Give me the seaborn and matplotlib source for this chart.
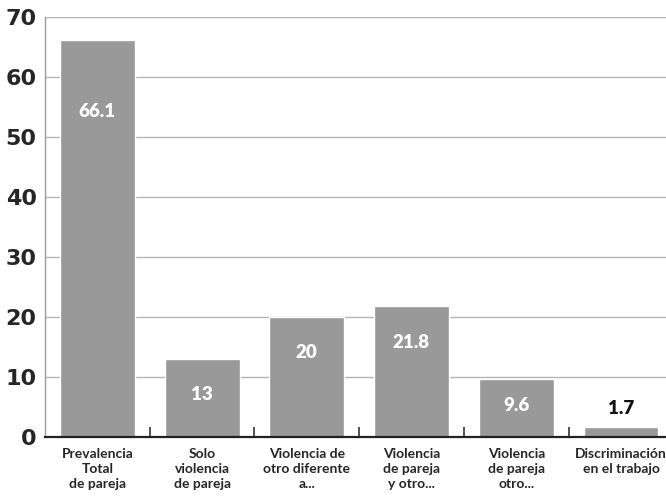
import seaborn as sns
import matplotlib.pyplot as plt
import numpy as np
import pandas as pd

categories = ["Prevalencia\nTotal\nde pareja", "Solo\nviolencia\nde pareja",
              "Violencia de\notro diferente\na...", "Violencia\nde pareja\ny otro...",
              "Violencia\nde pareja\notro...", "Discriminación\nen el trabajo"]
values = [66.1, 13, 20, 21.8, 9.6, 1.7]
value_labels = ["66.1", "13", "20", "21.8", "9.6", "1.7"]
yticks = [0, 10, 20, 30, 40, 50, 60, 70]

df = pd.DataFrame({"cat": categories, "val": values})

sns.set_style("white")
plt.rcParams['font.family'] = ['Lato', 'DejaVu Sans']

fig = plt.figure(figsize=(6.66, 4.97), dpi=100)
ax = fig.add_axes([45 / 666, 60 / 497, 1 - 45 / 666, 420 / 497])

sns.barplot(data=df, x="cat", y="val", color="#999999", saturation=1,
            width=0.715, ax=ax, zorder=2)

ax.set_ylim(0, 70)
ax.set_xlim(-0.5, 5.43)
ax.set_yticks(yticks)
ax.set_yticklabels([str(t) for t in yticks], fontsize=16, fontweight="bold",
                   family="DejaVu Sans")
ax.yaxis.grid(True, color="#b5b5b5", linewidth=1, zorder=0)
ax.set_axisbelow(True)
ax.tick_params(axis="y", length=0, pad=6)
ax.tick_params(axis="x", length=0, pad=8)
for lab in ax.get_xticklabels():
    lab.set_fontsize(10)
    lab.set_fontweight("bold")
    lab.set_linespacing(1.3)
ax.set_xticks(np.arange(0.5, 5, 1), minor=True)
ax.tick_params(axis="x", which="minor", bottom=True, direction="in", length=7,
               width=1.2, color="#333333")
ax.set_xlabel("")
ax.set_ylabel("")

for s in ["top", "right"]:
    ax.spines[s].set_visible(False)
ax.spines["left"].set_color("#9a9a9a")
ax.spines["left"].set_linewidth(1)
ax.spines["bottom"].set_color("#222222")
ax.spines["bottom"].set_linewidth(1.6)

for i, (v, t) in enumerate(zip(values, value_labels)):
    if v < 5:
        ax.text(i, v + 3, t, ha="center", va="center", fontsize=13.5,
                fontweight="heavy", color="#111111")
    else:
        y = v * 0.82 if v > 30 else v - min(6, v * 0.45)
        ax.text(i, y, t, ha="center", va="center", fontsize=13.5,
                fontweight="heavy", color="white")

fig.savefig("out.png", dpi=100)
